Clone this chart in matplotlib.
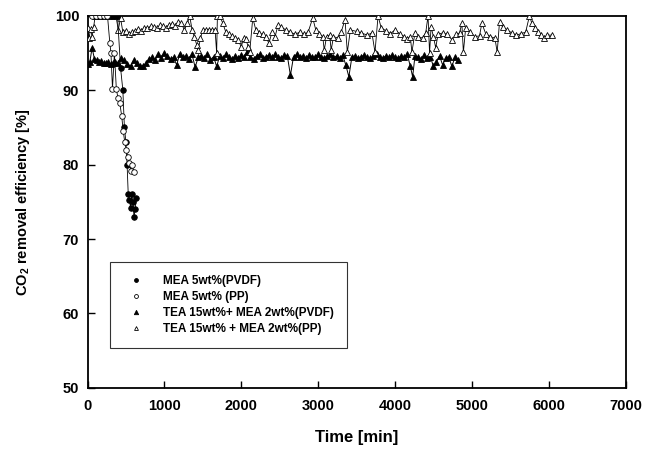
import numpy as np
import matplotlib
matplotlib.use("Agg")
import matplotlib.pyplot as plt

plt.rcParams["font.family"] = ["Liberation Sans", "DejaVu Sans"]
plt.rcParams["font.weight"] = "bold"
plt.rcParams["mathtext.fontset"] = "custom"
plt.rcParams["mathtext.rm"] = "Liberation Sans:bold"
plt.rcParams["mathtext.bf"] = "Liberation Sans:bold"

# MEA 5wt% (PVDF)
t_mea_pvdf = [100, 150, 200, 250, 300, 350, 390, 430, 460, 480, 500, 515, 530,
              545, 560, 575, 590, 605, 620, 635]
v_mea_pvdf = [100, 100, 100, 100, 100, 100, 100, 93.0, 90.0, 85.0, 83.0, 80.0,
              76.0, 75.3, 74.2, 76.0, 75.0, 73.0, 74.0, 75.5]

# MEA 5wt% (PP)
t_mea_pp = [60, 110, 160, 210, 260, 290, 305, 325, 350, 375, 395, 420, 445,
            465, 485, 505, 525, 545, 565, 585, 600]
v_mea_pp = [100, 100, 100, 100, 100, 96.4, 95.0, 90.2, 95.0, 90.2, 89.0, 88.3,
            86.5, 84.5, 83.0, 82.0, 81.0, 80.2, 79.2, 80.0, 79.0]

# TEA 15wt% + MEA 2wt% (PVDF)
t_tea_pvdf = [0, 30, 60, 90, 120, 150, 180, 210, 240, 270, 300, 330, 360, 400,
              440, 480, 520, 560, 600, 640, 680, 720, 760, 800, 840, 880, 920,
              960, 1000, 1040, 1080, 1120, 1160, 1200, 1240, 1280, 1320, 1360,
              1400, 1440, 1480, 1520, 1560, 1600, 1640, 1680, 1720, 1760, 1800,
              1840, 1880, 1920, 1960, 2000, 2040, 2080, 2120, 2160, 2200, 2240,
              2280, 2320, 2360, 2400, 2440, 2480, 2520, 2560, 2600, 2640, 2680,
              2720, 2760, 2800, 2840, 2880, 2920, 2960, 3000, 3040, 3080, 3120,
              3160, 3200, 3240, 3280, 3320, 3360, 3400, 3440, 3480, 3520, 3560,
              3600, 3640, 3680, 3720, 3760, 3800, 3840, 3880, 3920, 3960, 4000,
              4040, 4080, 4120, 4160, 4200, 4230, 4260, 4300, 4340, 4380, 4420,
              4460, 4500, 4540, 4580, 4620, 4660, 4700, 4740, 4780, 4820]
v_tea_pvdf = [93.5, 93.8, 95.7, 94.2, 94.0, 93.8, 93.9, 93.6, 93.7, 93.8, 93.5,
              93.6, 93.8, 93.7, 94.3, 94.0, 93.5, 93.2, 94.0, 93.6, 93.2, 93.3,
              93.6, 94.2, 94.4, 94.1, 94.8, 94.3, 95.0, 94.6, 94.2, 94.4, 93.4,
              94.9, 94.5, 94.6, 94.2, 94.8, 93.1, 94.4, 94.6, 94.3, 94.8, 94.1,
              94.5, 93.2, 94.6, 94.3, 94.8, 94.4, 94.2, 94.6, 94.3, 94.7, 94.4,
              95.2, 94.5, 94.2, 94.6, 94.8, 94.3, 94.5, 94.7, 94.4, 94.8, 94.5,
              94.3, 94.7, 94.6, 92.0, 94.5, 94.8, 94.4, 94.6, 94.3, 94.7, 94.5,
              94.4, 94.8, 94.5, 94.3, 94.6, 94.8, 94.4, 94.6, 94.3, 94.7, 93.4,
              91.8, 94.5, 94.6, 94.3, 94.5, 94.7, 94.4, 94.3, 94.6, 94.8, 94.5,
              94.3, 94.6, 94.4, 94.7, 94.5, 94.3, 94.6, 94.4, 94.8, 93.2, 91.8,
              94.6, 94.4, 94.2, 94.7, 94.3, 94.5, 93.2, 93.8, 94.6, 93.4, 94.3,
              94.5, 93.2, 94.4, 94.0]

# TEA 15wt% + MEA 2wt% (PP)
t_tea_pp = [0, 20, 40, 60, 80, 100, 130, 160, 190, 220, 250, 280, 310, 340, 370,
            400, 430, 460, 500, 540, 580, 620, 660, 700, 740, 780, 820, 860, 900,
            940, 980, 1020, 1060, 1100, 1140, 1180, 1220, 1260, 1300, 1330, 1360,
            1390, 1420, 1440, 1470, 1500, 1540, 1580, 1620, 1660, 1680, 1690,
            1720, 1760, 1800, 1840, 1880, 1920, 1960, 2000, 2030, 2060, 2090,
            2110, 2150, 2190, 2230, 2280, 2320, 2360, 2400, 2440, 2480, 2520,
            2580, 2640, 2700, 2760, 2820, 2870, 2930, 2970, 3010, 3060, 3080,
            3110, 3150, 3170, 3200, 3260, 3300, 3350, 3380, 3420, 3500, 3560,
            3640, 3700, 3740, 3780, 3820, 3880, 3940, 4000, 4060, 4120, 4160,
            4200, 4220, 4260, 4300, 4360, 4400, 4430, 4450, 4470, 4500, 4530,
            4560, 4620, 4680, 4740, 4800, 4840, 4870, 4890, 4920, 4980, 5040,
            5100, 5130, 5180, 5240, 5300, 5330, 5360, 5400, 5460, 5520, 5580,
            5640, 5700, 5750, 5780, 5820, 5860, 5900, 5940, 5980, 6040]
v_tea_pp = [98.4, 97.0, 98.2, 97.2, 98.5, 100, 100, 100, 100, 100, 100, 100, 100,
            100, 100, 98.1, 99.7, 97.8, 98.0, 97.5, 97.8, 98.0, 98.2, 98.0, 98.4,
            98.3, 98.6, 98.5, 98.3, 98.7, 98.6, 98.4, 98.8, 98.9, 98.6, 99.2,
            99.0, 98.1, 99.0, 100, 98.1, 97.2, 96.1, 95.4, 97.0, 98.1, 98.1,
            98.1, 98.1, 98.1, 95.0, 100, 100, 99.0, 97.8, 97.5, 97.3, 97.0, 96.8,
            95.8, 97.0, 96.9, 95.8, 95.1, 99.7, 98.1, 97.7, 97.5, 97.2, 96.3,
            97.8, 97.2, 98.8, 98.5, 98.1, 97.8, 97.5, 97.8, 97.5, 97.8, 99.7,
            98.1, 97.6, 97.2, 95.4, 97.2, 97.4, 95.4, 97.2, 97.0, 97.8, 99.5,
            95.1, 98.1, 97.9, 97.7, 97.4, 97.7, 95.1, 100, 98.4, 98.0, 97.6,
            98.1, 97.6, 97.2, 96.9, 97.2, 95.1, 97.7, 97.2, 97.0, 97.7, 100,
            95.0, 98.5, 97.2, 95.7, 97.5, 97.7, 97.5, 96.8, 97.5, 97.7, 99.0,
            95.1, 98.4, 97.8, 97.2, 97.3, 99.0, 97.6, 97.2, 97.0, 95.1, 99.2,
            98.5, 98.1, 97.7, 97.4, 97.6, 97.8, 100, 99.0, 98.4, 97.8, 97.4,
            97.0, 97.4, 97.4]

fig = plt.figure(figsize=(6.53, 4.51), dpi=100)
ax = fig.add_axes([0.134, 0.140, 0.824, 0.825])

ax.plot(t_tea_pvdf, v_tea_pvdf, color="black", lw=0.7, marker="^", ms=4.5,
        mfc="black", mec="black", mew=0.6, label="TEA 15wt%+ MEA 2wt%(PVDF)", zorder=3)
ax.plot(t_tea_pp, v_tea_pp, color="black", lw=0.6, marker="^", ms=4,
        mfc="white", mec="black", mew=0.6, label="TEA 15wt% + MEA 2wt%(PP)", zorder=3)
ax.plot(t_mea_pvdf, v_mea_pvdf, color="black", lw=0.6, marker="o", ms=4,
        mfc="black", mec="black", mew=0.6, label="MEA 5wt%(PVDF)", zorder=4)
ax.plot(t_mea_pp, v_mea_pp, color="black", lw=0.6, marker="o", ms=4,
        mfc="white", mec="black", mew=0.6, label="MEA 5wt% (PP)", zorder=4)

ax.set_xlim(0, 7000)
ax.set_ylim(50, 100)
ax.set_xticks(np.arange(0, 7001, 1000))
ax.set_yticks(np.arange(50, 101, 10))
ax.tick_params(direction="in", length=5, width=1, labelsize=10.5, pad=6)
ax.tick_params(axis="x", pad=8)
for lab in ax.get_xticklabels() + ax.get_yticklabels():
    lab.set_fontweight("bold")
for s in ax.spines.values():
    s.set_linewidth(1.3)

ax.set_xlabel("Time [min]", fontsize=12, fontweight="bold", labelpad=12)
ax.set_ylabel("CO$_2$ removal efficiency [%]", fontsize=10.5, fontweight="bold", labelpad=16)

handles, labels = ax.get_legend_handles_labels()
order = [2, 3, 0, 1]
leg = ax.legend([handles[i] for i in order], [labels[i] for i in order],
                loc="lower left", bbox_to_anchor=(0.03, 0.09), frameon=True,
                fancybox=False, edgecolor="black",
                prop={"weight": "bold", "size": 8.5}, handlelength=2.2,
                borderpad=1.1, labelspacing=0.35, handletextpad=1.2, markerscale=0.7)
leg.get_frame().set_linewidth(0.8)
for h in leg.legend_handles:
    h.set_linestyle("none")

fig.savefig("out.png", dpi=100)
